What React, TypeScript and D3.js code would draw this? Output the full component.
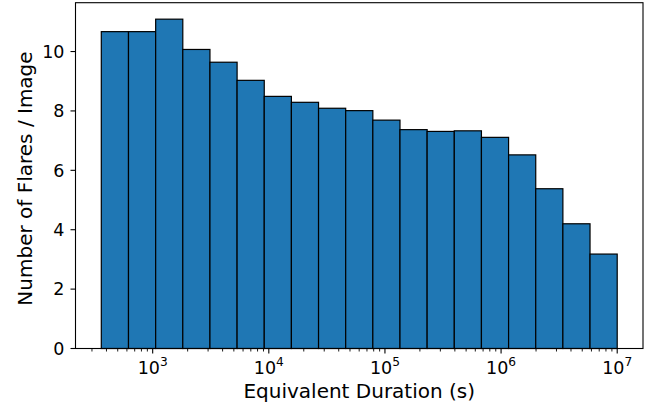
import React from "react";
import * as d3 from "d3";

const binEdges = [361, 619, 1061, 1817, 3113, 5332, 9135, 15648, 26806, 45920, 78670, 134770, 230870, 395480, 677460, 1160500, 1988400, 3406100, 5834700, 10000000];
const counts = [10.67, 10.67, 11.09, 10.07, 9.64, 9.03, 8.49, 8.29, 8.09, 8.01, 7.69, 7.37, 7.31, 7.33, 7.11, 6.52, 5.38, 4.2, 3.18];
const yTicks = [0, 2, 4, 6, 8, 10];
const xTickExps = [3, 4, 5, 6, 7];
const xLabel = "Equivalent Duration (s)";
const yLabel = "Number of Flares / Image";

const W = 657, H = 409;
const L = 75.5, R = 643, T = 2.7, B = 348.5;
const FONT = "DejaVu Sans, sans-serif";

export default function App() {
  const lo = Math.log10(binEdges[0]);
  const hi = Math.log10(binEdges[binEdges.length - 1]);
  const pad = (hi - lo) * 0.05;
  const x = d3.scaleLog().domain([Math.pow(10, lo - pad), Math.pow(10, hi + pad)]).range([L, R]);
  const y = d3.scaleLinear().domain([0, d3.max(counts)! * 1.05]).range([B, T]);

  const minorTicks: number[] = [];
  const [d0, d1] = x.domain();
  for (let e = Math.floor(Math.log10(d0)); e <= Math.ceil(Math.log10(d1)); e++) {
    for (let m = 2; m <= 9; m++) {
      const v = m * Math.pow(10, e);
      if (v >= d0 && v <= d1) minorTicks.push(v);
    }
  }

  return (
    <svg width={W} height={H} style={{ position: "absolute", left: 0, top: 0, background: "#fff" }} fontFamily={FONT}>
      <rect x={0} y={0} width={W} height={H} fill="#fff" />
      {counts.map((c, i) => (
        <rect
          key={i}
          x={x(binEdges[i])}
          y={y(c)}
          width={x(binEdges[i + 1]) - x(binEdges[i])}
          height={y(0) - y(c)}
          fill="#1f77b4"
          stroke="#000"
          strokeWidth={1.2}
        />
      ))}
      <rect x={L} y={T} width={R - L} height={B - T} fill="none" stroke="#000" strokeWidth={1.1} />
      {yTicks.map((t) => (
        <g key={t}>
          <line x1={L - 5} x2={L} y1={y(t)} y2={y(t)} stroke="#000" strokeWidth={1.1} />
          <text x={L - 11} y={y(t)} dy="0.36em" textAnchor="end" fontSize={17.5} fill="#000">{t}</text>
        </g>
      ))}
      {minorTicks.map((v, i) => (
        <line key={i} x1={x(v)} x2={x(v)} y1={B} y2={B + 3} stroke="#000" strokeWidth={0.9} />
      ))}
      {xTickExps.map((e) => {
        const v = Math.pow(10, e);
        return (
          <g key={e}>
            <line x1={x(v)} x2={x(v)} y1={B} y2={B + 5} stroke="#000" strokeWidth={1.1} />
            <text x={x(v)} y={373.5} textAnchor="middle" fontSize={17.5} fill="#000">
              10<tspan fontSize={12.2} dy={-7.5}>{e}</tspan>
            </text>
          </g>
        );
      })}
      <text x={(L + R) / 2} y={398} textAnchor="middle" fontSize={20} fill="#000">{xLabel}</text>
      <text transform={`translate(31.5, 178.5) rotate(-90)`} textAnchor="middle" fontSize={20} fill="#000">{yLabel}</text>
    </svg>
  );
}
